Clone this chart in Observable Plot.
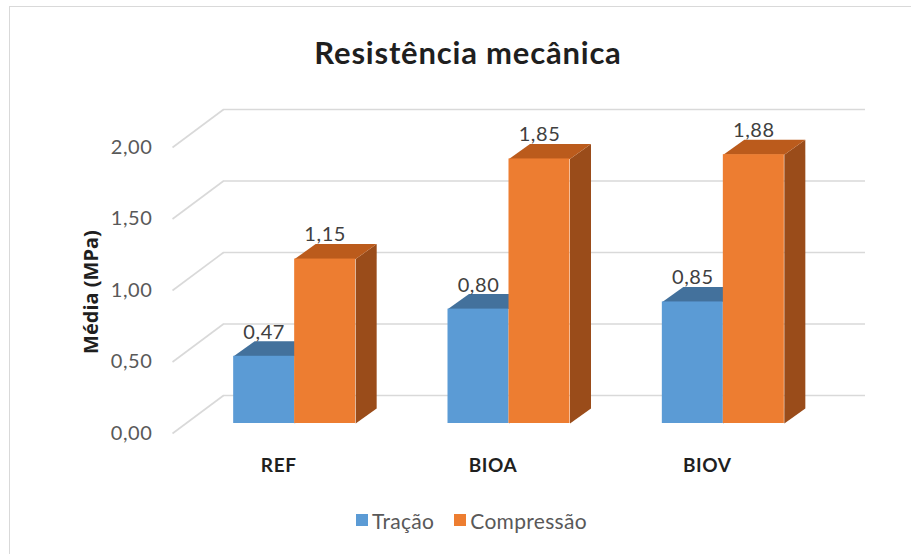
<!DOCTYPE html>
<html>
<head>
<meta charset="utf-8">
<script src="https://cdn.jsdelivr.net/npm/d3@7"></script>
<script src="https://cdn.jsdelivr.net/npm/@observablehq/plot@0.6"></script>
<style>
  body { margin: 0; background: #fff; }
  #wrap { position: relative; width: 911px; height: 554px; overflow: hidden; font-family: Lato, sans-serif; background: #fff; }
  #frame { position: absolute; left: 9px; top: 6px; width: 940px; height: 600px; border: 1.5px solid #d9d9d9; box-sizing: border-box; }
  #title { position: absolute; top: 30px; left: 25px; width: 886px; text-align: center; font-size: 31px; letter-spacing: 0.8px; font-weight: bold; line-height: 44px; color: #1f1f1f; }
  #chart { position: absolute; top: 90px; left: 0; }
  #chart svg text { letter-spacing: 0.6px; }
  #ytitle { position: absolute; left: 90px; top: 292px; transform: translate(-50%, -50%) rotate(-90deg); white-space: nowrap; font-family: 'Open Sans', sans-serif; font-weight: bold; font-size: 20px; color: #1f1f1f; }
  #legend { position: absolute; top: 506px; left: 0; width: 911px; height: 28px; display: flex; justify-content: center; align-items: center; font-size: 21px; letter-spacing: 0.3px; color: #595959; padding-left: 32px; box-sizing: border-box; }
  .item { display: flex; align-items: center; margin: 0 10px; }
  .sw { width: 12px; height: 12px; margin-right: 4px; }
</style>
</head>
<body>
<div id="wrap">
  <div id="frame"></div>
  <div id="title">Resistência mecânica</div>
  <div id="chart"></div>
  <div id="ytitle">Média (MPa)</div>
  <div id="legend"></div>
</div>
<script>
// ---- data ----
const categories = ["REF", "BIOA", "BIOV"];
const seriesNames = ["Tração", "Compressão"];
const tracao = [0.47, 0.80, 0.85];
const compressao = [1.15, 1.85, 1.88];
const yTicks = [0, 0.5, 1.0, 1.5, 2.0];

// ---- styles ----
const frontColors = ["#5b9bd5", "#ed7d31"];
const topColors = ["#43719c", "#bb5b1c"];
const sideColors = ["#3a6591", "#9a4c1a"];

const W = 911, H = 400, ML = 187, MR = 81, MT = 47, MB = 67;
const KX = (W - ML - MR) / 3;      // px per x unit
const KY = (H - MT - MB) / 2;      // px per y unit
const BW = 61 / KX;                 // bar width (x units)
const DX = 21 / KX, DY = 15 / KY;   // bar depth
const fmt = d3.formatLocale({decimal: ",", thousands: ".", grouping: [3], currency: ["R$", ""]}).format(".2f");

const values = [tracao, compressao];
const rows = [];
values.forEach((arr, s) => arr.forEach((v, i) => {
  const x1 = s === 0 ? i - BW : i;
  rows.push({id: `${s}-${i}`, s, i, cat: categories[i], value: v, x1, x2: x1 + BW});
}));

const topPts = [], sidePts = [];
for (const r of rows) {
  topPts.push(
    {id: r.id, s: r.s, x: r.x1, y: r.value},
    {id: r.id, s: r.s, x: r.x2, y: r.value},
    {id: r.id, s: r.s, x: r.x2 + DX, y: r.value + DY},
    {id: r.id, s: r.s, x: r.x1 + DX, y: r.value + DY});
  sidePts.push(
    {id: r.id, s: r.s, x: r.x2, y: 0},
    {id: r.id, s: r.s, x: r.x2, y: r.value},
    {id: r.id, s: r.s, x: r.x2 + DX, y: r.value + DY},
    {id: r.id, s: r.s, x: r.x2 + DX, y: DY});
}

const barMarks = [];
for (const s of [0, 1]) {
  barMarks.push(
    Plot.line(sidePts.filter(d => d.s === s), {x: "x", y: "y", z: "id", fill: sideColors[s], stroke: "none", curve: "linear-closed"}),
    Plot.line(topPts.filter(d => d.s === s), {x: "x", y: "y", z: "id", fill: topColors[s], stroke: "none", curve: "linear-closed"}),
    Plot.rect(rows.filter(d => d.s === s), {x1: "x1", x2: "x2", y1: 0, y2: "value", fill: frontColors[s]})
  );
}

const chart = Plot.plot({
  width: W, height: H,
  marginLeft: ML, marginRight: MR, marginTop: MT, marginBottom: MB,
  x: {type: "linear", domain: [-0.5, 2.5], axis: null},
  y: {type: "linear", domain: [0, 2], axis: null},
  style: {fontFamily: "Lato, sans-serif", fontSize: "20px", background: "transparent", overflow: "visible"},
  marks: [
    // back wall gridlines
    Plot.ruleY(yTicks, {y: d => d + 28 / KY, x1: -0.5 + 36 / KX, x2: 2.5 + 35 / KX, stroke: "#d9d9d9", strokeWidth: 1.6}),
    // side wall diagonals
    Plot.link(yTicks, {x1: -0.5 - 15 / KX, y1: d => d - 10 / KY, x2: -0.5 + 36 / KX, y2: d => d + 28 / KY, stroke: "#d9d9d9", strokeWidth: 1.6}),
    ...barMarks,
    // value labels
    Plot.text(rows, {x: d => (d.x1 + d.x2) / 2, y: "value", dy: -24, text: d => fmt(d.value), fill: "#404040", fontSize: 20}),
    // y tick labels
    Plot.text(yTicks, {x: -0.5, y: d => d, dx: -35, dy: 10, textAnchor: "end", text: d => fmt(d), fill: "#595959", fontSize: 20}),
    // category labels
    Plot.text(categories, {x: (d, i) => i, y: 0, dx: -16, dy: 42, text: d => d, fontWeight: "bold", fill: "#1f1f1f", fontSize: 19})
  ]
});
document.getElementById("chart").appendChild(chart);

// legend
const legend = document.getElementById("legend");
seriesNames.forEach((name, s) => {
  const item = document.createElement("div");
  item.className = "item";
  const sw = document.createElement("div");
  sw.className = "sw";
  sw.style.background = frontColors[s];
  const t = document.createElement("span");
  t.textContent = name;
  item.appendChild(sw);
  item.appendChild(t);
  legend.appendChild(item);
});
</script>
</body>
</html>
